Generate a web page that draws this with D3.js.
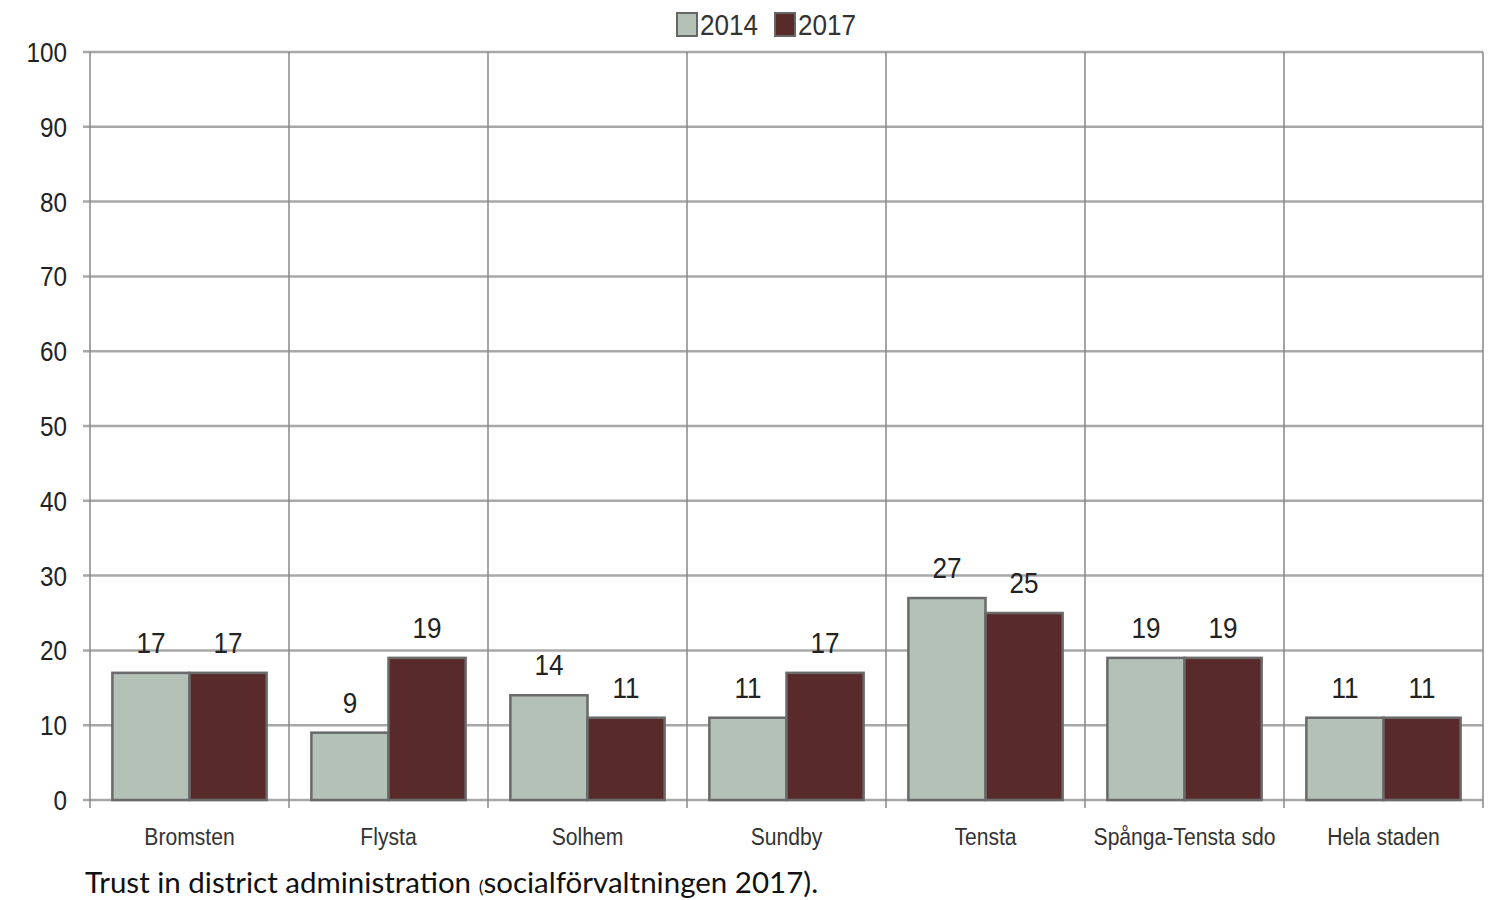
<!DOCTYPE html>
<html>
<head>
<meta charset="utf-8">
<script src="https://cdn.jsdelivr.net/npm/d3@7"></script>
<style>
  body { margin: 0; background: #fff; }
  svg { display: block; }
</style>
</head>
<body>
<svg id="chart" width="1503" height="900"></svg>
<script>
// Share of residents who trust the district administration, per area
const categories = ["Bromsten", "Flysta", "Solhem", "Sundby", "Tensta", "Spånga-Tensta sdo", "Hela staden"];
const seriesNames = ["2014", "2017"];
const values2014 = [17, 9, 14, 11, 27, 19, 11];
const values2017 = [17, 19, 11, 17, 25, 19, 11];
const yTicks = [0, 10, 20, 30, 40, 50, 60, 70, 80, 90, 100];
const captionMain = "Trust in district administration ";
const captionParen = "(";
const captionRest = "socialförvaltningen 2017).";

const colors = { "2014": "#b4c1b6", "2017": "#592a2a" };
const seriesValues = { "2014": values2014, "2017": values2017 };

const svg = d3.select("#chart");
const margin = { left: 90, top: 52 };
const plotRight = 1483;
const plotBottom = 800;

const x = d3.scaleBand().domain(categories).range([margin.left, plotRight]).paddingInner(0).paddingOuter(0);
const xs = d3.scaleBand().domain(seriesNames).range([0, x.bandwidth()]).paddingInner(0).paddingOuter(0.29);
const y = d3.scaleLinear().domain([0, 100]).range([plotBottom, margin.top]);

const font = "'Liberation Sans', Arial, sans-serif";
const squeeze = 0.9;

// horizontal gridlines
svg.append("g").selectAll("line").data(yTicks).join("line")
  .attr("x1", margin.left - 7).attr("x2", plotRight)
  .attr("y1", d => y(d)).attr("y2", d => y(d))
  .attr("stroke", "#a8a8a8").attr("stroke-width", 2.5);

// vertical category separators
const seps = categories.map(c => x(c)).concat([plotRight]);
svg.append("g").selectAll("line").data(seps).join("line")
  .attr("x1", d => d).attr("x2", d => d)
  .attr("y1", margin.top).attr("y2", plotBottom + 8)
  .attr("stroke", "#888888").attr("stroke-width", 1.5);

// y axis labels (slightly condensed)
svg.append("g").selectAll("text").data(yTicks).join("text")
  .attr("transform", d => `translate(67,${y(d) + 10}) scale(${squeeze},1)`)
  .attr("text-anchor", "end")
  .attr("font-family", font).attr("font-size", 27)
  .attr("fill", "#222")
  .text(d => d);

// bars
const groups = svg.append("g").selectAll("g").data(categories).join("g")
  .attr("transform", d => `translate(${x(d)},0)`);

const cells = (c, i) => seriesNames.map(s => ({ s, v: seriesValues[s][i] }));

groups.selectAll("rect").data(cells).join("rect")
  .attr("x", d => xs(d.s))
  .attr("width", xs.bandwidth())
  .attr("y", d => y(d.v))
  .attr("height", d => y(0) - y(d.v))
  .attr("fill", d => colors[d.s])
  .attr("stroke", "#6a6a6a").attr("stroke-width", 2.5);

// value labels
groups.selectAll("text").data(cells).join("text")
  .attr("transform", d => `translate(${xs(d.s) + xs.bandwidth() / 2},${y(d.v) - 20}) scale(${squeeze},1)`)
  .attr("text-anchor", "middle")
  .attr("font-family", font).attr("font-size", 29)
  .attr("fill", "#222")
  .text(d => d.v);

// category labels
svg.append("g").selectAll("text").data(categories).join("text")
  .attr("transform", d => `translate(${x(d) + x.bandwidth() / 2},845) scale(0.88,1)`)
  .attr("text-anchor", "middle")
  .attr("font-family", font).attr("font-size", 24)
  .attr("fill", "#333")
  .text(d => d);

// legend
const legend = svg.append("g").attr("transform", "translate(677,13)");
const legendItems = legend.selectAll("g").data(seriesNames).join("g")
  .attr("transform", (d, i) => `translate(${i * 98},0)`);
legendItems.append("rect")
  .attr("x", 0).attr("y", 0).attr("width", 20).attr("height", 23)
  .attr("fill", d => colors[d]).attr("stroke", "#666").attr("stroke-width", 2);
legendItems.append("text")
  .attr("transform", `translate(23,22) scale(${squeeze},1)`)
  .attr("font-family", font).attr("font-size", 29)
  .attr("fill", "#333")
  .text(d => d);

// caption
const cap = svg.append("text")
  .attr("x", 85).attr("y", 893)
  .attr("font-family", "Lato, 'Open Sans', sans-serif").attr("font-size", 29.5)
  .attr("fill", "#111");
cap.append("tspan").text(captionMain);
cap.append("tspan").attr("font-size", 18).text(captionParen);
cap.append("tspan").text(captionRest);
</script>
</body>
</html>
